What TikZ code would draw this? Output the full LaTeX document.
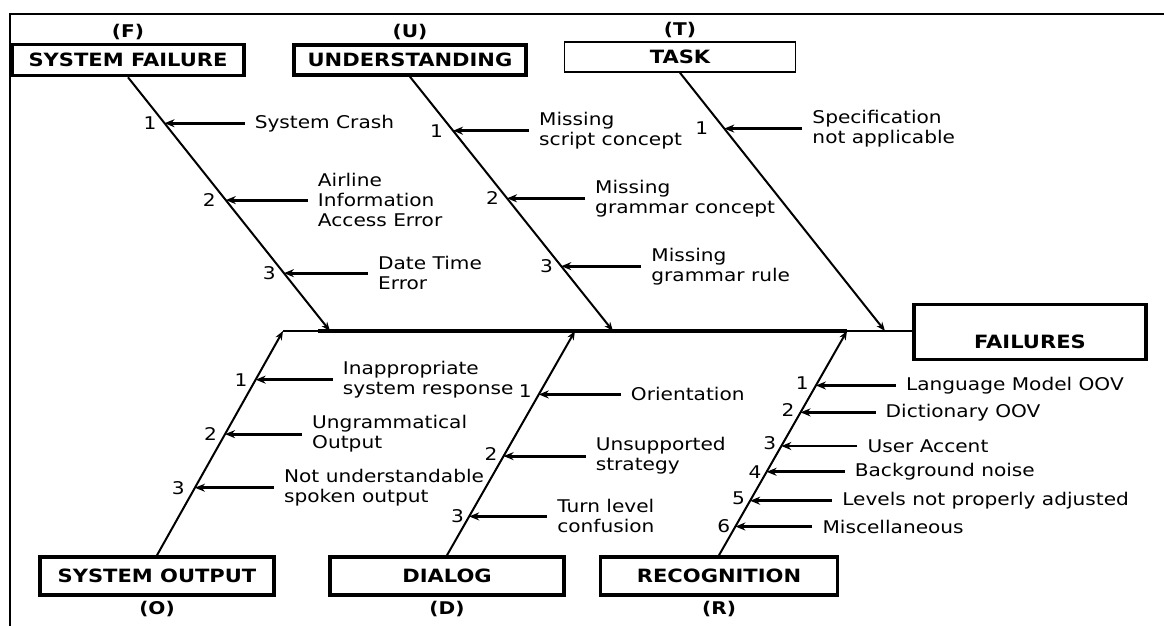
\documentclass[tikz,border=0pt]{standalone}
\usepackage{fontspec}
\setmainfont{DejaVu Sans}[FakeStretch=1.15]
\usetikzlibrary{arrows.meta,calc,positioning}
\tikzset{
	catbox/.style={draw, line width=3.6pt, inner sep=0pt,
			font=\bfseries\fontsize{18.3}{20}\selectfont},
	thinbox/.style={catbox, line width=1.6pt},
	letter/.style={inner sep=0pt, font=\bfseries\fontsize{17.5}{20}\selectfont},
	bone/.style={line width=2pt, -{Stealth[length=9pt,width=7pt]}},
	cause/.style={inner sep=0pt, align=left, font=\fontsize{17.5}{20}\selectfont},
	causearrow/.style={line width=2.9pt, shorten <=10pt, -{Stealth[length=10pt,width=8pt]}},
	numlbl/.style={inner sep=0pt, font=\fontsize{17.5}{20}\selectfont}
}

\begin{document}
\begin{tikzpicture}[x=1pt,y=-1pt]
	\useasboundingbox (0,0) rectangle (1164,626);

	% Draw the frame
	\draw[line width=1.4pt] (10,626) -- (10,14) -- (1164,14);

	% Draw the category boxes
	\node[catbox, minimum width=232pt, minimum height=31pt] (sfail) at (128,60) {SYSTEM FAILURE};
	\node[catbox, minimum width=232pt, minimum height=30pt] (undst) at (410,60) {UNDERSTANDING};
	\node[thinbox, minimum width=231pt, minimum height=30pt] (task) at (680,57) {TASK};
	\node[catbox, minimum width=234pt, minimum height=38pt] (sout) at (157,576) {SYSTEM OUTPUT};
	\node[catbox, minimum width=234pt, minimum height=38pt] (dlg) at (447,576) {DIALOG};
	\node[catbox, minimum width=237pt, minimum height=38pt] (recog) at (719,576) {RECOGNITION};
	\node[catbox, minimum width=232pt, minimum height=55pt, text height=34pt, text depth=2pt] (fail) at (1030,332) {FAILURES};

	% Label the categories
	\node[letter, above=3pt of sfail] (ltrf) {(F)};
	\node[letter, above=3pt of undst] (ltru) {(U)};
	\node[letter, above=3pt of task] (ltrt) {(T)};
	\node[letter, below=4pt of sout] (ltro) {(O)};
	\node[letter, below=4pt of dlg] (ltrd) {(D)};
	\node[letter, below=4pt of recog] (ltrr) {(R)};

	% Points where the bones meet the spine
	\coordinate (os) at (283,331);
	\coordinate (fs) at (330,331);
	\coordinate (ds) at (575,331);
	\coordinate (us) at (613,331);
	\coordinate (rs) at (847,331);
	\coordinate (ts) at (885,331);

	% Draw the spine
	\draw[line width=1.4pt] (os) -- (os -| fail.west);
	\draw[line width=3.2pt] ([xshift=-12pt]fs) -- (rs);

	% Draw the bones
	\draw[bone] (sfail.south) -- (fs);
	\draw[bone] (undst.south) -- (us);
	\draw[bone] (task.south) -- (ts);
	\draw[bone] (sout.north) -- (os);
	\draw[bone] (dlg.north) -- (ds);
	\draw[bone] (recog.north) -- (rs);

	% System failure causes
	\coordinate (f1) at ($(sfail.south)!0.181!(fs)$);
	\coordinate (f2) at ($(sfail.south)!0.484!(fs)$);
	\coordinate (f3) at ($(sfail.south)!0.772!(fs)$);
	\node[numlbl, left=8pt of f1] (nf1) {1};
	\node[numlbl, left=10pt of f2] (nf2) {2};
	\node[numlbl, left=8pt of f3] (nf3) {3};
	\node[cause, right=90pt of f1] (cf1) {System Crash};
	\node[cause, right=92pt of f2] (cf2) {Airline\\Information\\Access Error};
	\node[cause, right=94pt of f3] (cf3) {Date Time\\Error};
	\draw[causearrow] (cf1.west) -- (f1);
	\draw[causearrow] (cf2.west) -- (f2);
	\draw[causearrow] (cf3.west) -- (f3);

	% Understanding causes
	\coordinate (u1) at ($(undst.south)!0.212!(us)$);
	\coordinate (u2) at ($(undst.south)!0.478!(us)$);
	\coordinate (u3) at ($(undst.south)!0.745!(us)$);
	\node[numlbl, left=10pt of u1] (nu1) {1};
	\node[numlbl, left=8pt of u2] (nu2) {2};
	\node[numlbl, left=8pt of u3] (nu3) {3};
	\node[cause, right=86pt of u1] (cu1) {Missing\\script concept};
	\node[cause, right=88pt of u2] (cu2) {Missing\\grammar concept};
	\node[cause, right=90pt of u3] (cu3) {Missing\\grammar rule};
	\draw[causearrow] (cu1.west) -- (u1);
	\draw[causearrow] (cu2.west) -- (u2);
	\draw[causearrow] (cu3.west) -- (u3);

	% Task causes
	\coordinate (t1) at ($(task.south)!0.216!(ts)$);
	\node[numlbl, left=16pt of t1] (nt1) {1};
	\node[cause, right=88pt of t1] (ct1) {Specification\\not applicable};
	\draw[causearrow] (ct1.west) -- (t1);

	% System output causes
	\coordinate (o1) at ($(sout.north)!0.783!(os)$);
	\coordinate (o2) at ($(sout.north)!0.540!(os)$);
	\coordinate (o3) at ($(sout.north)!0.301!(os)$);
	\node[numlbl, left=8pt of o1] (no1) {1};
	\node[numlbl, left=8pt of o2] (no2) {2};
	\node[numlbl, left=10pt of o3] (no3) {3};
	\node[cause, right=87pt of o1] (co1) {Inappropriate\\system response};
	\node[cause, right=87pt of o2] (co2) {Ungrammatical\\Output};
	\node[cause, right=89pt of o3] (co3) {Not understandable\\spoken output};
	\draw[causearrow] (co1.west) -- (o1);
	\draw[causearrow] (co2.west) -- (o2);
	\draw[causearrow] (co3.west) -- (o3);

	% Dialog causes
	\coordinate (d1) at ($(dlg.north)!0.717!(ds)$);
	\coordinate (d2) at ($(dlg.north)!0.442!(ds)$);
	\coordinate (d3) at ($(dlg.north)!0.173!(ds)$);
	\node[numlbl, left=7pt of d1, yshift=3pt] (nd1) {1};
	\node[numlbl, left=6pt of d2, yshift=2pt] (nd2) {2};
	\node[numlbl, left=5pt of d3] (nd3) {3};
	\node[cause, right=92pt of d1] (cd1) {Orientation};
	\node[cause, right=92pt of d2] (cd2) {Unsupported\\strategy};
	\node[cause, right=88pt of d3] (cd3) {Turn level\\confusion};
	\draw[causearrow] (cd1.west) -- (d1);
	\draw[causearrow] (cd2.west) -- (d2);
	\draw[causearrow] (cd3.west) -- (d3);

	% Recognition causes
	\coordinate (r1) at ($(recog.north)!0.757!(rs)$);
	\coordinate (r2) at ($(recog.north)!0.637!(rs)$);
	\coordinate (r3) at ($(recog.north)!0.487!(rs)$);
	\coordinate (r4) at ($(recog.north)!0.372!(rs)$);
	\coordinate (r5) at ($(recog.north)!0.243!(rs)$);
	\coordinate (r6) at ($(recog.north)!0.128!(rs)$);
	\node[numlbl, left=7pt of r1, yshift=2pt] (nr1) {1};
	\node[numlbl, left=6pt of r2, yshift=2pt] (nr2) {2};
	\node[numlbl, left=5pt of r3, yshift=3pt] (nr3) {3};
	\node[numlbl, left=5pt of r4] (nr4) {4};
	\node[numlbl, left=5pt of r5, yshift=2pt] (nr5) {5};
	\node[numlbl, left=5pt of r6] (nr6) {6};
	\node[cause, right=90pt of r1] (cr1) {Language Model OOV};
	\node[cause, right=85pt of r2] (cr2) {Dictionary OOV};
	\node[cause, right=86pt of r3] (cr3) {User Accent};
	\node[cause, right=88pt of r4] (cr4) {Background noise};
	\node[cause, right=92pt of r5] (cr5) {Levels not properly adjusted};
	\node[cause, right=87pt of r6] (cr6) {Miscellaneous};
	\draw[causearrow] (cr1.west) -- (r1);
	\draw[causearrow] (cr2.west) -- (r2);
	\draw[causearrow] (cr3.west) -- (r3);
	\draw[causearrow] (cr4.west) -- (r4);
	\draw[causearrow] (cr5.west) -- (r5);
	\draw[causearrow] (cr6.west) -- (r6);
\end{tikzpicture}
\end{document}
